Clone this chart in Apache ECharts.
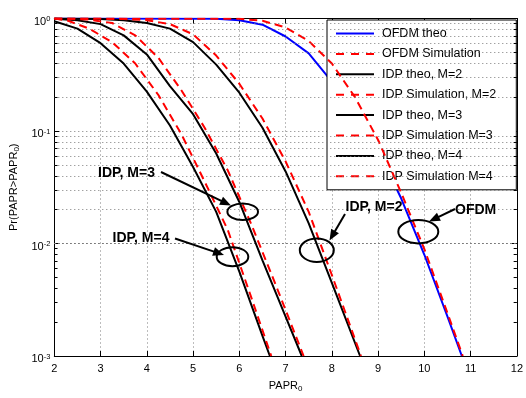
<!DOCTYPE html>
<html><head><meta charset="utf-8">
<script src="https://cdn.jsdelivr.net/npm/echarts@6/dist/echarts.min.js"></script>
<style>html,body{margin:0;padding:0;background:#fff}#c{width:526px;height:398px}</style>
</head><body><div id="c"></div>
<script>
const seriesNames = ['OFDM theo','OFDM Simulation','IDP theo, M=2','IDP Simulation, M=2','IDP theo, M=3','IDP Simulation M=3','IDP theo, M=4','IDP Simulation M=4'];

const ofdmTheoX = [2,5.5,6,6.5,7,7.5,8,8.5,9,9.5,10,10.5,10.81];
const ofdmTheoP = [1,0.993,0.966,0.881,0.692,0.490,0.275,0.141,0.0676,0.0251,0.00794,0.00224,0.001];
const ofdmSimX  = [2,6,6.5,7,7.5,8,8.5,9,9.5,10,10.5,10.83];
const ofdmSimP  = [1,0.993,0.955,0.832,0.631,0.398,0.200,0.0832,0.0282,0.00891,0.00240,0.001];
const idp2TheoX = [2,3,3.5,4,4.5,5,5.5,6,6.5,7,7.5,8,8.61];
const idp2TheoP = [0.998,0.989,0.966,0.912,0.813,0.617,0.389,0.219,0.107,0.0437,0.0151,0.00447,0.001];
const idp2SimX  = [2,3.5,4,4.5,5,5.5,6,6.5,7,7.5,8,8.63];
const idp2SimP  = [1,0.989,0.966,0.891,0.724,0.468,0.263,0.129,0.0537,0.0191,0.00525,0.001];
const idp3TheoX = [2,2.5,3,3.5,4,4.5,5,5.5,6,6.5,7,7.35];
const idp3TheoP = [0.993,0.966,0.891,0.708,0.479,0.251,0.141,0.0631,0.0234,0.00708,0.00224,0.001];
const idp3SimX  = [2,2.75,3.25,3.75,4.25,4.75,5.25,5.75,6.25,6.75,7.39];
const idp3SimP  = [1,0.977,0.912,0.708,0.447,0.229,0.107,0.0447,0.0151,0.00468,0.001];
const idp4TheoX = [2,2.5,3,3.5,4,4.5,5,5.5,6,6.5,6.66];
const idp4TheoP = [0.944,0.813,0.603,0.398,0.224,0.112,0.0479,0.0191,0.00562,0.00151,0.001];
const idp4SimX  = [2,2.3,2.75,3.25,3.75,4.25,4.75,5.25,5.75,6.25,6.69];
const idp4SimP  = [1,0.955,0.813,0.617,0.398,0.209,0.0933,0.0355,0.0132,0.00339,0.001];

const xTickLabels = ['2','3','4','5','6','7','8','9','10','11','12'];
const yTickExponents = {'1':'0','0.1':'-1','0.01':'-2','0.001':'-3'};

const FONT = 'Liberation Sans, Arial, Helvetica, sans-serif';
const pair = (xs, ps) => xs.map((x, i) => [x, ps[i]]);
const SOLID_ICON = 'path://M0,0H38V2H0Z';
const DASH_ICON = 'path://M0,0H8V2H0Z M15,0H23V2H15Z M30,0H38V2H30Z';

const seriesDefs = [
  [ofdmTheoX, ofdmTheoP, '#0000ff', 'solid'],
  [ofdmSimX, ofdmSimP, '#ff0000', [8,5]],
  [idp2TheoX, idp2TheoP, '#000000', 'solid'],
  [idp2SimX, idp2SimP, '#ff0000', [8,5]],
  [idp3TheoX, idp3TheoP, '#000000', 'solid'],
  [idp3SimX, idp3SimP, '#ff0000', [8,5]],
  [idp4TheoX, idp4TheoP, '#000000', 'solid'],
  [idp4SimX, idp4SimP, '#ff0000', [8,5]]
];

const minorY = [];
[0.1, 0.01, 0.001].forEach(d => { for (let k = 2; k <= 9; k++) minorY.push(+(k * d).toPrecision(3)); });

const gridDot = {color:'#7a7a7a', type:[1,3], width:1};

const series = seriesDefs.map((d, i) => ({
  name: seriesNames[i], type:'line', data: pair(d[0], d[1]),
  symbol:'none', smooth:false, z: 3 + i,
  lineStyle:{color:d[2], width:2, type:d[3]}, itemStyle:{color:d[2]}
}));

series.push({
  type:'line', data:[], symbol:'none', silent:true, z:1,
  markLine:{silent:true, symbol:'none', animation:false, label:{show:false}, emphasis:{disabled:true},
    lineStyle:gridDot, data: minorY.map(v => ({yAxis:v}))}
});
series.push({
  type:'line', data:[], symbol:'none', silent:true, z:2,
  markLine:{silent:true, symbol:'none', animation:false, label:{show:false}, emphasis:{disabled:true},
    lineStyle:{color:'#000', type:'solid', width:1},
    data: minorY.flatMap(v => [[{coord:[2,v]},{coord:[2.07,v]}],[{coord:[11.93,v]},{coord:[12,v]}]])}
});

function arrow(x1,y1,x2,y2){
  const L=11, W=4.5; const dx=x2-x1, dy=y2-y1, len=Math.hypot(dx,dy);
  const ux=dx/len, uy=dy/len; const bx=x2-ux*L, by=y2-uy*L;
  return [
    {type:'line', z:100, shape:{x1:x1,y1:y1,x2:bx+ux*2,y2:by+uy*2}, style:{stroke:'#000', lineWidth:2}},
    {type:'polygon', z:100, shape:{points:[[x2,y2],[bx-uy*W,by+ux*W],[bx+uy*W,by-ux*W]]}, style:{fill:'#000'}}
  ];
}
function ell(cx,cy,rx,ry){ return {type:'ellipse', z:100, shape:{cx,cy,rx,ry}, style:{fill:null, stroke:'#000', lineWidth:2}}; }
function txt(s,x,y){ return {type:'text', z:100, x:x, y:y, style:{text:s, font:'bold 14px ' + FONT, fill:'#000', verticalAlign:'middle', align:'left'}}; }

const graphics = [
  txt('IDP, M=3', 98, 173), ...arrow(161,172,231,205.5), ell(242.7,211.7,15.3,8.3),
  txt('IDP, M=4', 112.5, 238), ...arrow(175,238.5,224,255), ell(232.5,256.7,15.8,9.5),
  txt('IDP, M=2', 345.5, 207), ...arrow(345,214,329.5,240.5), ell(316.8,250.2,17,11.8),
  txt('OFDM', 455, 210), ...arrow(455,209,429,221.5), ell(418.3,231.7,20,11.7)
];

const axisLineBlack = {show:true, onZero:false, lineStyle:{color:'#000', width:1}};
const option = {
  animation:false,
  backgroundColor:'#fff',
  textStyle:{fontFamily:FONT},
  grid:{left:48.5, right:7.5, top:18.5, bottom:39, containLabel:false},
  legend:{
    data: seriesNames.map((n, i) => ({name:n, icon: seriesDefs[i][3] === 'solid' ? SOLID_ICON : DASH_ICON})),
    orient:'vertical', left:327, top:20,
    itemWidth:38, itemHeight:2.5, itemGap:7.4,
    padding:[7,20,7,9], backgroundColor:'#fff', borderColor:'#000', borderWidth:1,
    selectedMode:false,
    textStyle:{fontSize:12.5, lineHeight:12, color:'#000', fontFamily:FONT, padding:[0,0,0,3]}
  },
  xAxis:[{
    type:'value', min:2, max:12, interval:1, position:'bottom',
    axisLine:axisLineBlack,
    axisTick:{inside:true, length:5, lineStyle:{color:'#000', width:1}},
    axisLabel:{color:'#000', fontSize:11, margin:7, fontFamily:FONT,
      formatter: v => xTickLabels[Math.round(v) - 2]},
    splitLine:{show:true, lineStyle:gridDot},
    name:'{m|PAPR}{s|0}', nameLocation:'middle', nameGap:23,
    nameTextStyle:{rich:{
      m:{fontSize:11, lineHeight:14, color:'#000', fontFamily:FONT},
      s:{fontSize:8, lineHeight:5, verticalAlign:'bottom', color:'#000', fontFamily:FONT}
    }}
  },{
    type:'value', min:2, max:12, interval:1, position:'top',
    axisLine:axisLineBlack,
    axisTick:{inside:true, length:5, lineStyle:{color:'#000', width:1}},
    axisLabel:{show:false}, splitLine:{show:false}
  }],
  yAxis:[{
    type:'log', logBase:10, min:0.001, max:1, position:'left',
    axisLine:axisLineBlack,
    axisTick:{inside:true, length:5, lineStyle:{color:'#000', width:1}},
    axisLabel:{margin:4, formatter: v => '{b|10}{s|' + yTickExponents[String(v)] + '}',
      rich:{
        b:{fontSize:11, lineHeight:12, padding:[6,0,0,0], color:'#000', fontFamily:FONT},
        s:{fontSize:7.5, lineHeight:8, padding:[2.5,0,0,0], verticalAlign:'top', color:'#000', fontFamily:FONT}
      }},
    splitLine:{show:true, lineStyle:gridDot},
    name:'{m|Pr(PAPR>PAPR}{s|0}{m|)}', nameLocation:'middle', nameGap:24, nameRotate:90,
    nameTextStyle:{rich:{
      m:{fontSize:11, lineHeight:14, color:'#000', fontFamily:FONT},
      s:{fontSize:8, lineHeight:5, verticalAlign:'bottom', color:'#000', fontFamily:FONT}
    }}
  },{
    type:'log', logBase:10, min:0.001, max:1, position:'right',
    axisLine:axisLineBlack,
    axisTick:{inside:true, length:5, lineStyle:{color:'#000', width:1}},
    axisLabel:{show:false}, splitLine:{show:false}
  }],
  series: series,
  graphic: graphics
};
const chart = echarts.init(document.getElementById('c'), null, {renderer:'canvas'});
chart.setOption(option);
</script></body></html>
